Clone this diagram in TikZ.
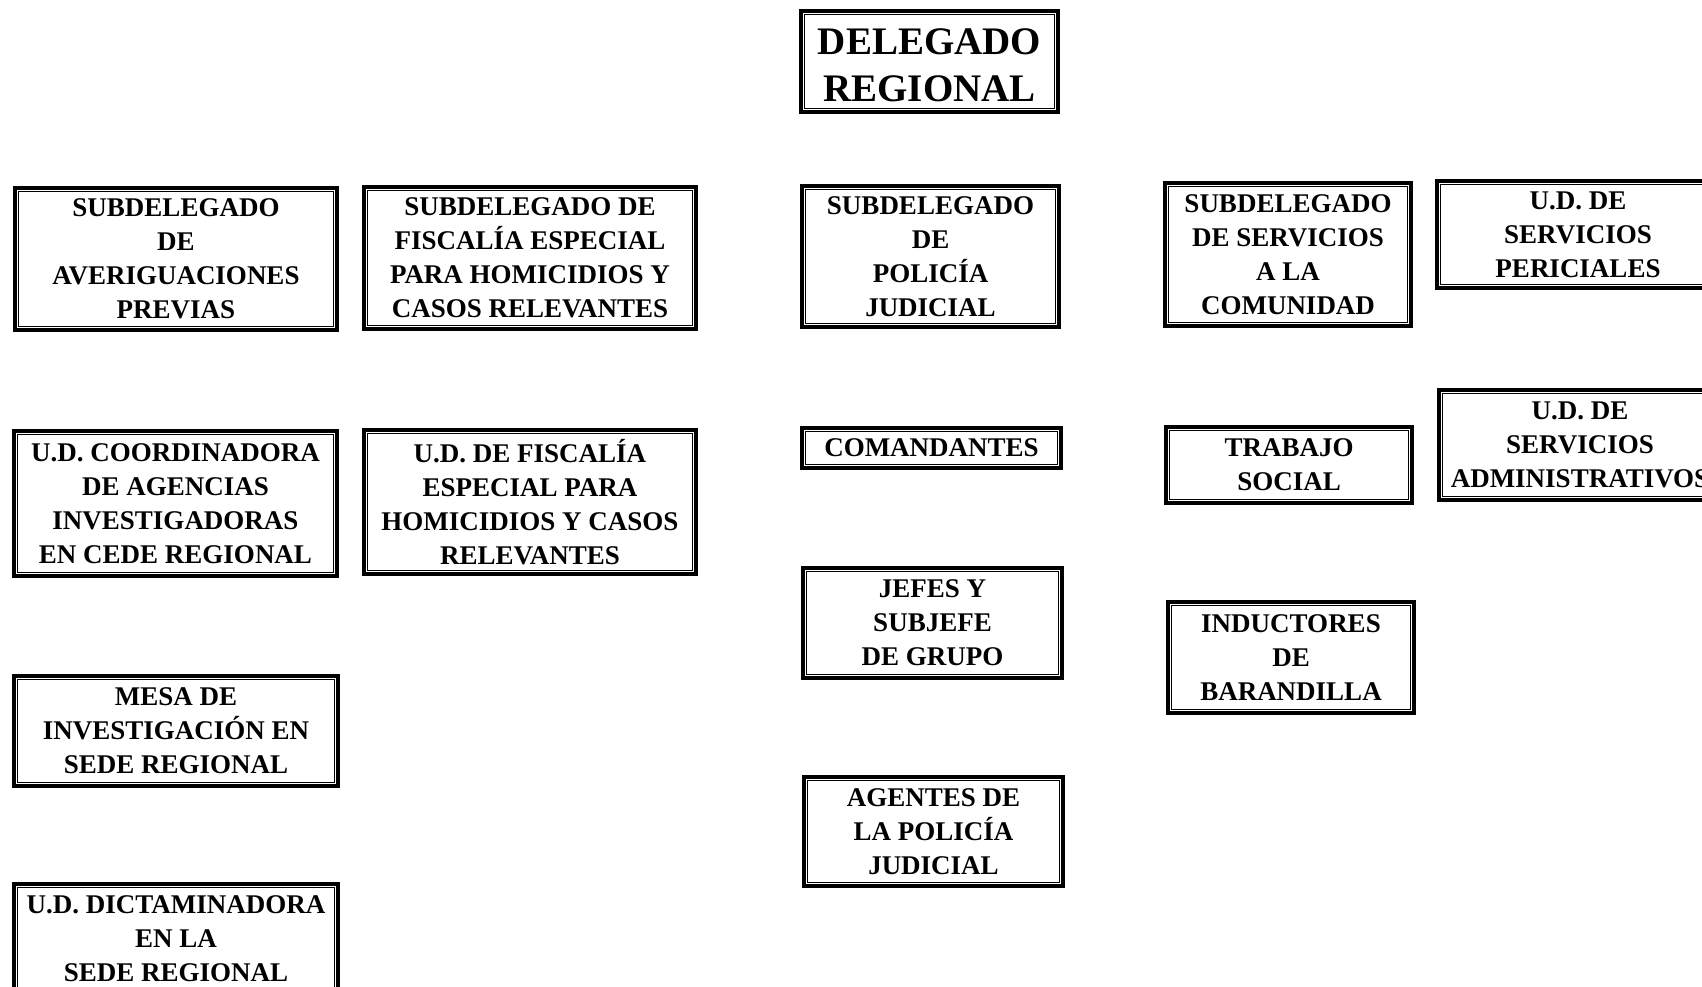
\documentclass[tikz,border=0pt]{standalone}
\usepackage{fontspec}
\setmainfont{Liberation Serif}
\begin{document}
\begin{tikzpicture}[x=1pt, y=-1pt,
	unit/.style={draw, line width=3.2pt, inner sep=0pt, align=center, font=\bfseries\fontsize{27}{34}\selectfont},
	innerline/.style={line width=1.1pt}]
	\useasboundingbox (0,0) rectangle (1702,986);
	\clip (0,0) rectangle (1702,986);
	% Define nodes
	\node[unit, minimum width=257pt, minimum height=101pt,
		label={[align=center, inner sep=0pt, yshift=-4pt, font=\bfseries\fontsize{39}{47}\selectfont]center:DELEGADO\\REGIONAL}] (delegado) at (929.5,61.5) {}; % Top node
	% Column 1
	\node[unit, minimum width=322pt, minimum height=142pt] (subAv) at (176,259) {SUBDELEGADO\\DE\\AVERIGUACIONES\\PREVIAS};
	\node[unit, minimum width=323pt, minimum height=145pt] (udCoord) at (175.5,503.5) {U.D. COORDINADORA\\DE AGENCIAS\\INVESTIGADORAS\\EN CEDE REGIONAL};
	\node[unit, minimum width=324pt, minimum height=110pt] (mesa) at (176,731) {MESA DE\\INVESTIGACIÓN EN\\SEDE REGIONAL};
	\node[unit, minimum width=324pt, minimum height=110pt] (udDict) at (176,939) {U.D. DICTAMINADORA\\EN LA\\SEDE REGIONAL};
	% Column 2
	\node[unit, minimum width=332pt, minimum height=142pt] (subFis) at (530,258) {SUBDELEGADO DE\\FISCALÍA ESPECIAL\\PARA HOMICIDIOS Y\\CASOS RELEVANTES};
	\node[unit, minimum width=332pt, minimum height=144pt] (udFis) at (530,502) {U.D. DE FISCALÍA\\ESPECIAL PARA\\HOMICIDIOS Y CASOS\\RELEVANTES};
	% Column 3
	\node[unit, minimum width=257pt, minimum height=141pt] (subPol) at (930.5,256.5) {SUBDELEGADO\\DE\\POLICÍA\\JUDICIAL};
	\node[unit, minimum width=259pt, minimum height=40pt] (comand) at (931.5,448) {COMANDANTES};
	\node[unit, minimum width=259pt, minimum height=110pt] (jefes) at (932.5,623) {JEFES Y\\SUBJEFE\\DE GRUPO};
	\node[unit, minimum width=259pt, minimum height=109pt] (agentes) at (933.5,831.5) {AGENTES DE\\LA POLICÍA\\JUDICIAL};
	% Column 4
	\node[unit, minimum width=246pt, minimum height=143pt] (subSer) at (1288,254.5) {SUBDELEGADO\\DE SERVICIOS\\A LA\\COMUNIDAD};
	\node[unit, minimum width=246pt, minimum height=76pt] (trabajo) at (1289,465) {TRABAJO\\SOCIAL};
	\node[unit, minimum width=246pt, minimum height=111pt] (induct) at (1291,657.5) {INDUCTORES\\DE\\BARANDILLA};
	% Column 5
	\node[unit, minimum width=282pt, minimum height=107pt] (udPer) at (1578,234.5) {U.D. DE\\SERVICIOS\\PERICIALES};
	\node[unit, minimum width=282pt, minimum height=110pt] (udAdm) at (1580,445) {U.D. DE\\SERVICIOS\\ADMINISTRATIVOS};
	
	% Inner frame lines
	\foreach \n in {delegado, subAv, udCoord, mesa, udDict, subFis, udFis, subPol, comand, jefes, agentes, subSer, trabajo, induct, udPer, udAdm}
		\draw[innerline] ([xshift=5pt,yshift=-5pt]\n.north west) rectangle ([xshift=-5pt,yshift=5pt]\n.south east);
\end{tikzpicture}
\end{document}
